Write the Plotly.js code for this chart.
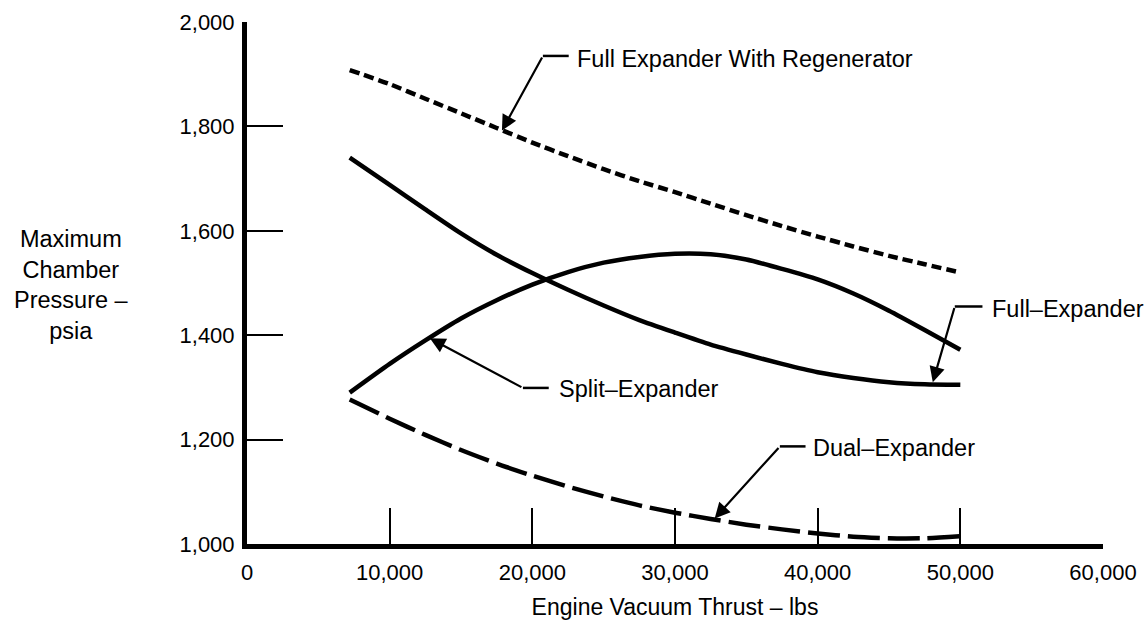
<!DOCTYPE html>
<html>
<head>
<meta charset="utf-8">
<script src="https://cdn.plot.ly/plotly-3.0.1.min.js"></script>
<style>html,body{margin:0;padding:0;background:#fff;}</style>
</head>
<body>
<div id="chart" style="width:1146px;height:623px;"></div>
<script>
// Engine vacuum thrust (lbs)
const thrust = [7200, 10000, 12500, 15000, 17500, 20000, 22500, 25000, 27500, 30000, 32500, 35000, 37500, 40000, 42500, 45000, 47500, 50000];
// Maximum chamber pressure (psia)
const regenerator  = [1908, 1881, 1853, 1825, 1797, 1769, 1743, 1718, 1695, 1674, 1652, 1630, 1609, 1589, 1570, 1552, 1536, 1520];
const fullExpander = [1740, 1688, 1641, 1595, 1554, 1519, 1487, 1457, 1429, 1405, 1382, 1363, 1345, 1329, 1318, 1310, 1306, 1305];
const splitExpander= [1290, 1345, 1390, 1432, 1467, 1497, 1521, 1539, 1550, 1556, 1555, 1545, 1527, 1507, 1480, 1447, 1410, 1372];
const dualExpander = [1277, 1240, 1209, 1180, 1154, 1131, 1110, 1091, 1074, 1060, 1048, 1037, 1028, 1020, 1014, 1011, 1011, 1015];

const seriesNames = ['Full Expander With Regenerator', 'Full\u2013Expander', 'Split\u2013Expander', 'Dual\u2013Expander'];

const xTickVals = [0, 10000, 20000, 30000, 40000, 50000, 60000];
const xTickText = ['0', '10,000', '20,000', '30,000', '40,000', '50,000', '60,000'];
const yTickVals = [1000, 1200, 1400, 1600, 1800, 2000];
const yTickText = ['1,000', '1,200', '1,400', '1,600', '1,800', '2,000'];

const xTitle = 'Engine Vacuum Thrust \u2013 lbs';
const yTitle = 'Maximum<br>Chamber<br>Pressure \u2013<br>psia';

const FONT = 'Liberation Sans, Arial, Helvetica, sans-serif';
const INK = '#000';

function curve(y, name, dash) {
  return {
    x: thrust, y: y, name: name, type: 'scatter', mode: 'lines',
    line: {color: INK, width: 4.5, dash: dash, shape: 'spline', smoothing: 0.6},
    hoverinfo: 'x+y+name'
  };
}

const data = [
  curve(regenerator, seriesNames[0], '10px,5px'),
  curve(fullExpander, seriesNames[1], 'solid'),
  curve(splitExpander, seriesNames[2], 'solid'),
  curve(dualExpander, seriesNames[3], '32px,8px')
];

// Callout definitions: label text position, knee of the leader, end of horizontal leader, arrow tip
const callouts = [
  {text: seriesNames[0], tx: 22990, ty: 1930, kx: 20740, ky: 1935, ex: 22550, px: 17870, py: 1792},
  {text: seriesNames[2], tx: 21720, ty: 1296, kx: 19340, ky: 1299, ex: 21150, px: 12820, py: 1394},
  {text: seriesNames[3], tx: 39520, ty: 1184, kx: 37350, ky: 1187, ex: 39150, px: 32780, py: 1049},
  {text: seriesNames[1], tx: 52070, ty: 1451, kx: 49610, ky: 1455, ex: 51550, px: 48070, py: 1310}
];

const annotations = [];
const shapes = [];
callouts.forEach(c => {
  annotations.push({
    x: c.tx, y: c.ty, xref: 'x', yref: 'y', text: c.text, showarrow: false,
    xanchor: 'left', yanchor: 'middle', font: {family: FONT, size: 23.5, color: INK}
  });
  annotations.push({
    x: c.px, y: c.py, xref: 'x', yref: 'y', ax: c.kx, ay: c.ky, axref: 'x', ayref: 'y',
    text: '', showarrow: true, arrowhead: 2, arrowsize: 1.4, arrowwidth: 2.2,
    arrowcolor: INK, standoff: 0, startstandoff: 0
  });
  shapes.push({
    type: 'line', xref: 'x', yref: 'y', x0: c.kx, y0: c.ky, x1: c.ex, y1: c.ky,
    line: {color: INK, width: 2.5}
  });
});

annotations.push({
  xref: 'paper', yref: 'paper', x: -0.2056, y: 0.497, xanchor: 'center', yanchor: 'middle',
  text: yTitle, showarrow: false, align: 'center',
  font: {family: FONT, size: 23.5, color: INK}
});

const layout = {
  width: 1146, height: 623,
  margin: {l: 247, r: 43, t: 22, b: 79, pad: 0},
  paper_bgcolor: '#fff', plot_bgcolor: '#fff',
  showlegend: false,
  font: {family: FONT, size: 22, color: INK},
  xaxis: {
    range: [0, 60000], tickvals: xTickVals, ticktext: xTickText,
    ticks: 'inside', ticklen: 36, tickwidth: 2, tickcolor: INK,
    showline: true, linewidth: 5, linecolor: INK,
    showgrid: false, zeroline: false, fixedrange: true,
    ticklabelstandoff: 5,
    tickfont: {family: FONT, size: 22, color: INK},
    title: {text: xTitle, font: {family: FONT, size: 23, color: INK}, standoff: 16}
  },
  yaxis: {
    range: [1000, 2000], tickvals: yTickVals, ticktext: yTickText,
    ticks: 'inside', ticklen: 36, tickwidth: 2, tickcolor: INK,
    showline: true, linewidth: 5, linecolor: INK,
    showgrid: false, zeroline: false, fixedrange: true,
    ticklabelstandoff: 3,
    tickfont: {family: FONT, size: 22, color: INK}
  },
  annotations: annotations,
  shapes: shapes
};

Plotly.newPlot('chart', data, layout, {displayModeBar: false, staticPlot: true});
</script>
</body>
</html>
